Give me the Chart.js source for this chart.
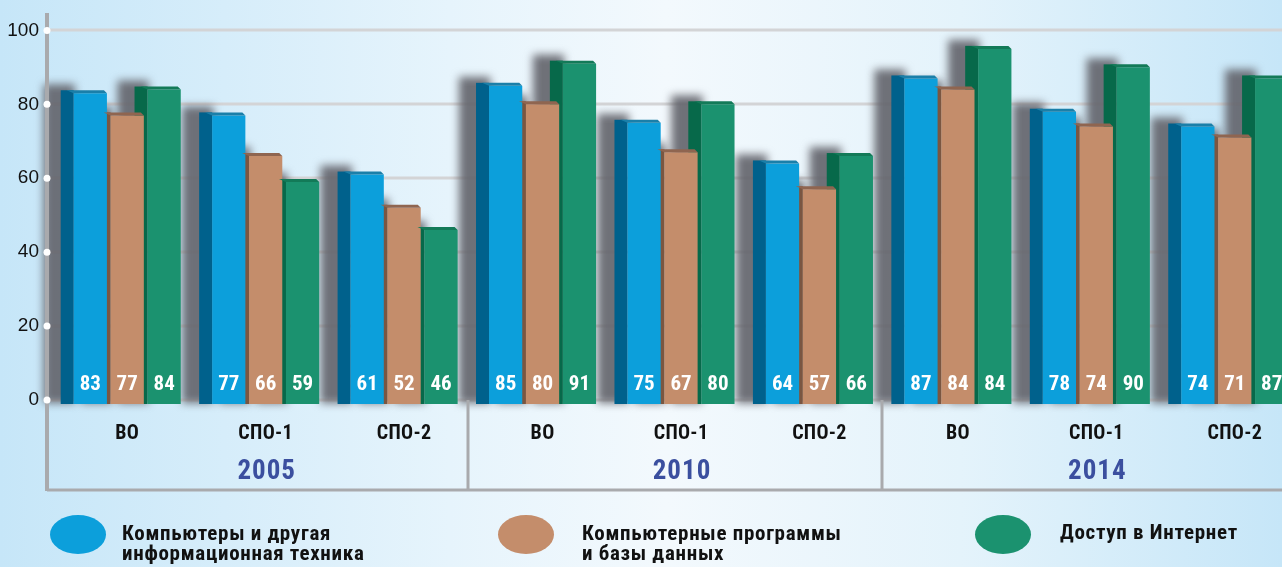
<!DOCTYPE html>
<html>
<head>
<meta charset="utf-8">
<script src="https://cdn.jsdelivr.net/npm/chart.js@4"></script>
<style>
html, body { margin: 0; padding: 0; }
body {
    width: 1282px; height: 567px; overflow: hidden; position: relative;
    background: linear-gradient(to right, #c6e6f8 0%, #e6f4fc 35%, #f3f9fd 52%, #e4f3fb 75%, #c6e6f8 100%);
    font-family: "Liberation Sans Narrow", "Roboto Condensed", "DejaVu Sans Condensed", sans-serif;
}
#wrap { position: absolute; left: 0; top: 0; width: 1304px; height: 567px; }
.dot { position: absolute; top: 515px; width: 56px; height: 39px; border-radius: 50%; }
.txt { position: absolute; font-weight: bold; font-size: 21px; line-height: 20px; letter-spacing: 0.7px; color: #111; white-space: nowrap; }
</style>
</head>
<body>
<div id="wrap"><canvas id="chart" width="1304" height="567"></canvas></div>
<div class="dot" style="left:50px;background:#0c9fdb"></div>
<div class="txt" style="left:122px;top:523px">Компьютеры и другая<br>информационная техника</div>
<div class="dot" style="left:498px;background:#c48d6b"></div>
<div class="txt" style="left:582px;top:523px">Компьютерные программы<br>и базы данных</div>
<div class="dot" style="left:975px;background:#1b926f"></div>
<div class="txt" style="left:1060px;top:522px">Доступ в Интернет</div>
<script>
const categories = ['ВО', 'СПО-1', 'СПО-2', 'ВО', 'СПО-1', 'СПО-2', 'ВО', 'СПО-1', 'СПО-2'];
const years = ['2005', '2010', '2014'];
const seriesNames = ['Компьютеры и другая информационная техника', 'Компьютерные программы и базы данных', 'Доступ в Интернет'];
const computers = [83, 77, 61, 85, 75, 64, 87, 78, 74];
const software = [77, 66, 52, 80, 67, 57, 84, 74, 71];
// bar heights as drawn; the 2014 ВО green bar is printed "84" but drawn at ~95
const internet = [84, 59, 46, 91, 80, 66, 95, 90, 87];
const internetLabels = [84, 59, 46, 91, 80, 66, 84, 90, 87];
const yTicks = [0, 20, 40, 60, 80, 100];

const fronts = ['#0c9fdb', '#c48d6b', '#1b926f'];
const sides = ['#00618c', '#7a5641', '#07694a'];
const tops = ['#1a7fa9', '#8f6550', '#137a58'];
const printed = [computers, software, internetLabels];
const narrow = '"Liberation Sans Narrow", "Roboto Condensed", "DejaVu Sans Condensed", sans-serif';

const bars3d = {
    id: 'bars3d',
    beforeDatasetsDraw(chart) {
        const ctx = chart.ctx, y = chart.scales.y, x = chart.scales.x;
        ctx.save();
        // grid
        ctx.strokeStyle = '#d3d4d6';
        ctx.lineWidth = 3;
        yTicks.forEach(v => {
            const py = Math.round(y.getPixelForValue(v));
            ctx.beginPath(); ctx.moveTo(47, py); ctx.lineTo(chart.width, py); ctx.stroke();
        });
        // shadows
        ctx.filter = 'blur(4px)';
        ctx.fillStyle = 'rgba(100,101,108,0.92)';
        for (let d = 0; d < 3; d++) {
            chart.getDatasetMeta(d).data.forEach(el => {
                const l = el.x - el.width / 2, r = el.x + el.width / 2;
                ctx.fillRect(l - 13 - 17, el.y - 9, r - l - 2, el.base - el.y + 12);
            });
        }
        ctx.filter = 'none';
        // axis and frame
        ctx.strokeStyle = '#a9aaad';
        ctx.lineWidth = 4;
        ctx.beginPath(); ctx.moveTo(47, 13); ctx.lineTo(47, 491); ctx.stroke();
        ctx.lineWidth = 3;
        ctx.beginPath(); ctx.moveTo(47, 490); ctx.lineTo(chart.width, 490); ctx.stroke();
        const base = y.getPixelForValue(0);
        [[2.5, -5], [5.5, -7]].forEach(([v, off]) => {
            const px = Math.round(x.getPixelForValue(v)) + off;
            ctx.beginPath(); ctx.moveTo(px, base); ctx.lineTo(px, 490); ctx.stroke();
        });
        // side faces
        for (let d = 0; d < 3; d++) {
            ctx.fillStyle = sides[d];
            chart.getDatasetMeta(d).data.forEach(el => {
                const l = el.x - el.width / 2;
                ctx.fillRect(l - 13, el.y - 3, 13, el.base - el.y + 7);
            });
        }
        ctx.restore();
    },
    afterDatasetsDraw(chart) {
        const ctx = chart.ctx;
        ctx.save();
        for (let d = 0; d < 3; d++) {
            chart.getDatasetMeta(d).data.forEach((el, i) => {
                const l = el.x - el.width / 2, r = el.x + el.width / 2;
                ctx.fillStyle = fronts[d];
                ctx.fillRect(l, el.base, r - l, 4);
                ctx.fillStyle = tops[d];
                ctx.beginPath();
                ctx.moveTo(l - 7, el.y - 3); ctx.lineTo(r - 3, el.y - 3);
                ctx.lineTo(r, el.y); ctx.lineTo(l, el.y); ctx.closePath(); ctx.fill();
                ctx.fillStyle = '#fff';
                ctx.font = 'bold 21px ' + narrow;
                ctx.textAlign = 'center';
                ctx.textBaseline = 'middle';
                ctx.fillText(String(printed[d][i]), el.x, el.base - 15);
            });
        }
        ctx.restore();
    },
    afterDraw(chart) {
        const ctx = chart.ctx, y = chart.scales.y, x = chart.scales.x;
        ctx.save();
        ctx.fillStyle = '#fff';
        yTicks.forEach(v => {
            ctx.beginPath(); ctx.arc(47, y.getPixelForValue(v), 3.5, 0, Math.PI * 2); ctx.fill();
        });
        ctx.textAlign = 'center';
        ctx.textBaseline = 'middle';
        ctx.fillStyle = '#111';
        ctx.font = 'bold 20px ' + narrow;
        ctx.letterSpacing = '0.3px';
        categories.forEach((c, i) => ctx.fillText(c, x.getPixelForValue(i), 434));
        ctx.fillStyle = '#3b4f9f';
        ctx.font = 'bold 27px ' + narrow;
        ctx.letterSpacing = '1px';
        years.forEach((t, g) => ctx.fillText(t, x.getPixelForValue(g * 3 + 1) + 1, 472));
        ctx.restore();
    }
};

function renderChart() {
    const ctx = document.getElementById('chart').getContext('2d');
    new Chart(ctx, {
        type: 'bar',
        data: {
            labels: categories,
            datasets: [
                { label: seriesNames[0], data: computers, backgroundColor: fronts[0] },
                { label: seriesNames[1], data: software, backgroundColor: fronts[1] },
                { label: seriesNames[2], data: internet, backgroundColor: fronts[2] }
            ]
        },
        options: {
            responsive: false,
            animation: false,
            events: [],
            categoryPercentage: 0.8,
            barPercentage: 0.9,
            layout: { padding: { top: 24, bottom: 167, left: 0, right: 0 } },
            plugins: { legend: { display: false }, tooltip: { enabled: false } },
            scales: {
                x: { display: false },
                y: {
                    min: 0, max: 100,
                    ticks: { stepSize: 20, padding: 19, color: '#111', font: { family: '"Liberation Sans", Arial, sans-serif', size: 19 } },
                    grid: { display: false, drawTicks: false },
                    border: { display: false },
                    afterFit(s) { s.width = 58; }
                }
            }
        },
        plugins: [bars3d]
    });
}
renderChart();
</script>
</body>
</html>
